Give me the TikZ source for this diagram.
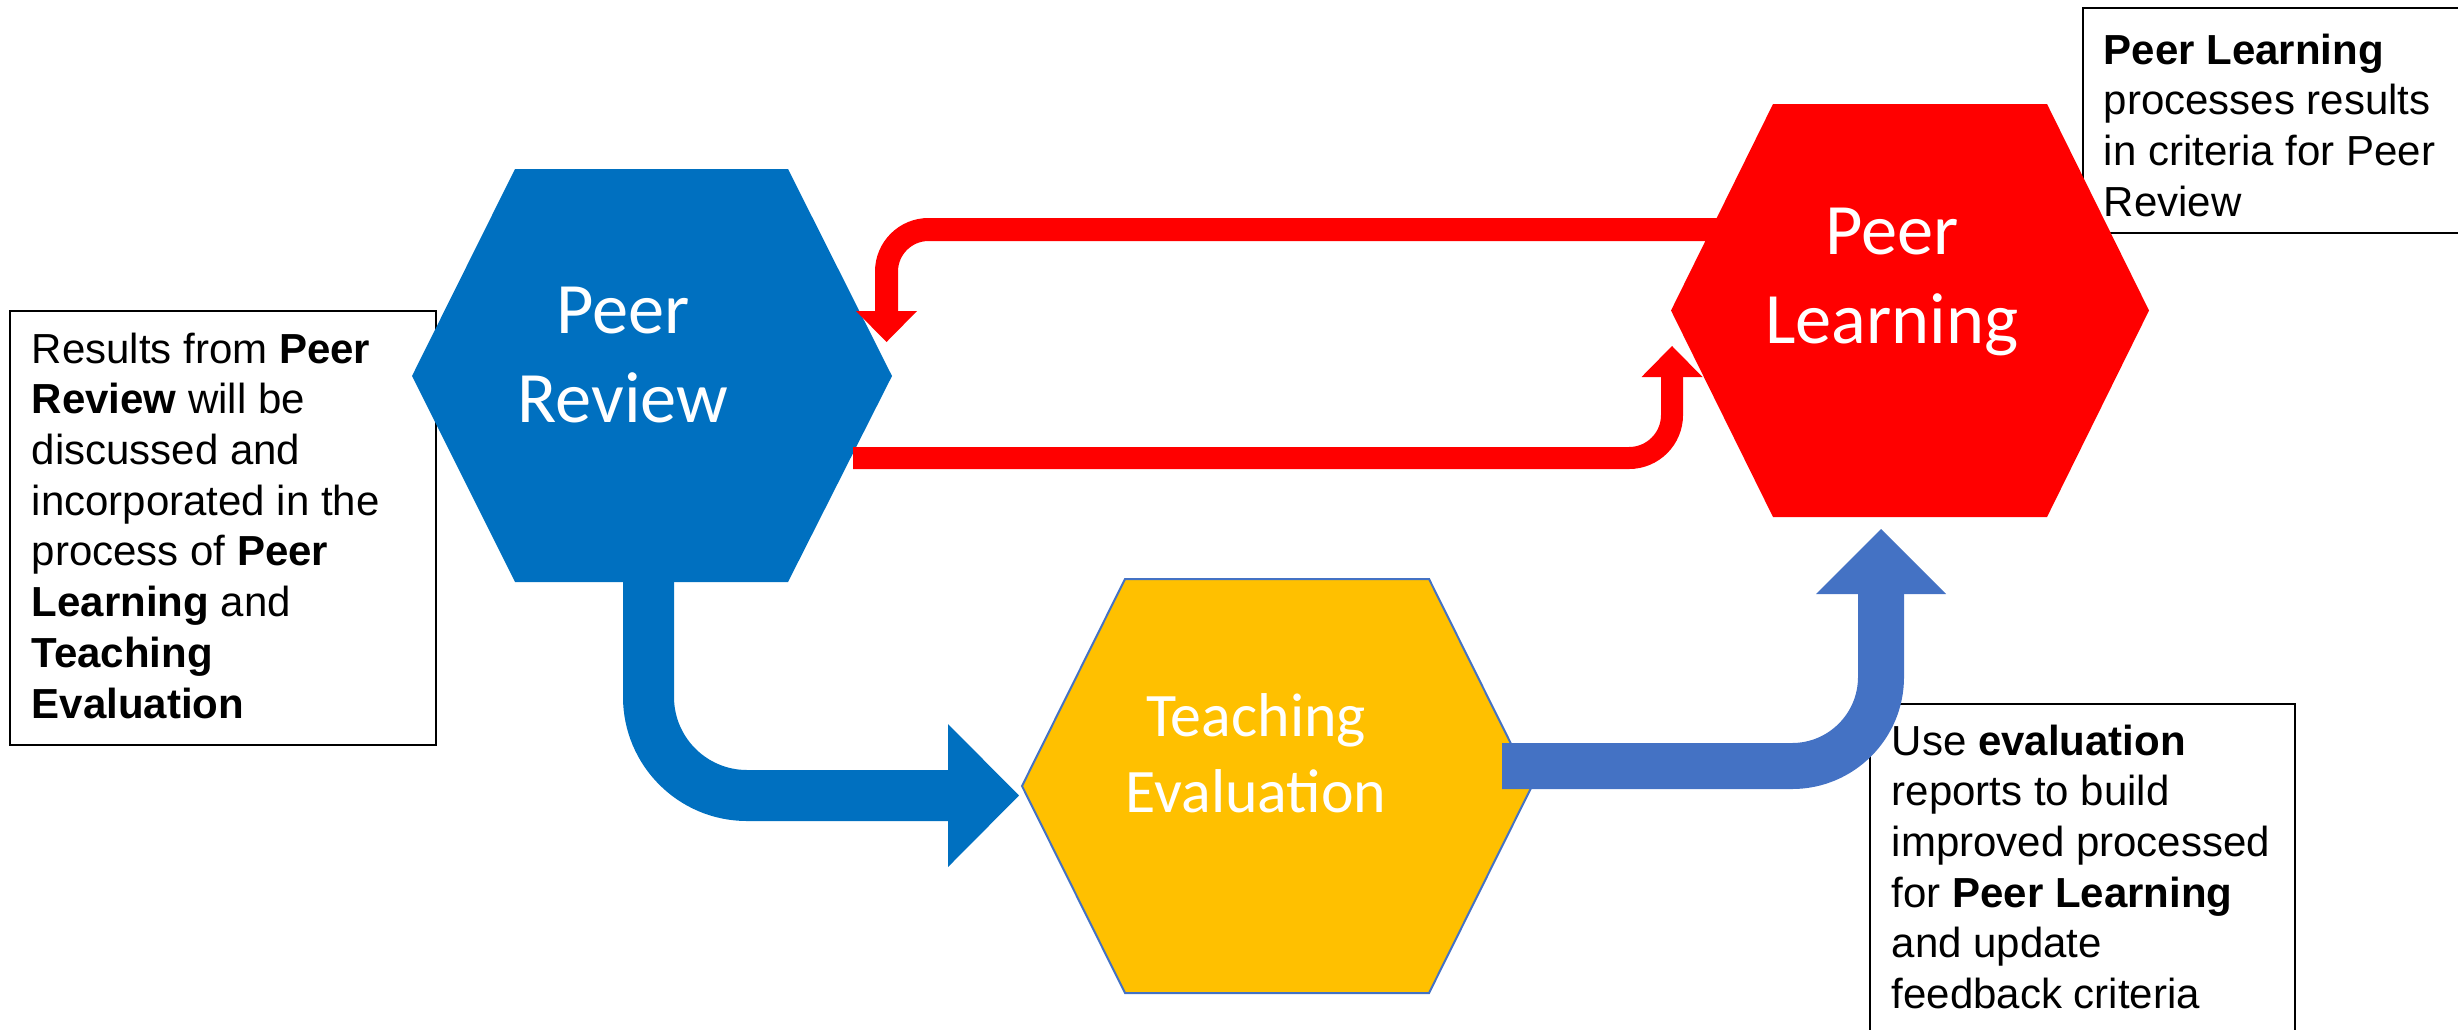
\documentclass[tikz,border=0pt]{standalone}
\usepackage{fontspec}
\setmainfont{Liberation Sans}
\newfontfamily\calibri{Carlito}
\definecolor{prblue}{HTML}{0070C0}
\definecolor{plred}{HTML}{FF0000}
\definecolor{teyellow}{HTML}{FFC000}
\definecolor{arrowblue}{HTML}{4472C4}
\begin{document}
\begin{tikzpicture}[x=0.1mm,y=-0.1mm,
  tbox/.style={draw=black, line width=0.15mm, fill=white, inner sep=0, anchor=north west},
  btext/.style={inner sep=0, anchor=base west, font=\fontsize{11.95pt}{14.43pt}\selectfont},
  hexlabel/.style={inner sep=0, anchor=base, text=white},
  bigfont/.style={font=\calibri\fontsize{20.6pt}{25.6pt}\selectfont},
  midfont/.style={font=\calibri\fontsize{17.6pt}{21.9pt}\selectfont},
  shaft/.style={line cap=butt, line join=miter},
]
\useasboundingbox (0,0) rectangle (2458,1029);

% text boxes (behind)
\node[tbox, minimum width=42.6mm, minimum height=43.4mm] (lbox) at (9,310) {};
\node[tbox, minimum width=38.8mm, minimum height=22.5mm] (trbox) at (2082,7) {};
\node[tbox, minimum width=42.5mm, minimum height=34mm] (brbox) at (1869,703) {};

% hexagons
\fill[prblue] (412,376) -- (515,169) -- (788,169) -- (892,376) -- (788,582) -- (515,582) -- cycle;
\fill[plred] (1671,310.5) -- (1773,104) -- (2047,104) -- (2149,310.5) -- (2047,517) -- (1773,517) -- cycle;
\filldraw[fill=teyellow, draw=arrowblue, line width=0.2mm] (1022,786) -- (1125,579) -- (1429,579) -- (1532,786) -- (1429,993) -- (1125,993) -- cycle;

\node[hexlabel, bigfont] (pr) at (623,333) {\begin{tabular}[t]{@{}c@{}}Peer\\Review\end{tabular}};
\node[hexlabel, bigfont] (pl) at (1892,254) {\begin{tabular}[t]{@{}c@{}}Peer\\Learning\end{tabular}};
\node[hexlabel, midfont] (te) at (1256,736) {\begin{tabular}[t]{@{}c@{}}Teaching\\Evaluation\end{tabular}};

% arrow end points
\coordinate (r1s) at (1730,229.5);
\coordinate (r1e) at (886.5,312);
\coordinate (r2s) at (853,458);
\coordinate (r2e) at (1672,376);
\coordinate (b1s) at (648.5,570);
\coordinate (b1e) at (949,795.5);
\coordinate (b2s) at (1502,766);
\coordinate (b2e) at (1881,593);

% red arrow: Peer Learning -> Peer Review
\draw[shaft, plred, line width=2.3mm, rounded corners=4.2mm] (r1s) -- (r1s -| r1e) -- (r1e);
\fill[plred] (856,311) -- (917,311) -- (886.5,342) -- cycle;

% red arrow: Peer Review -> Peer Learning
\draw[shaft, plred, line width=2.2mm, rounded corners=4.3mm] (r2s) -- (r2s -| r2e) -- (r2e);
\fill[plred] (1641.5,377) -- (1702.5,377) -- (1672,346) -- cycle;

% blue arrow: Peer Review -> Teaching Evaluation
\draw[shaft, prblue, line width=5.1mm, rounded corners=9.85mm] (b1s) -- (b1s |- b1e) -- (b1e);
\fill[prblue] (948,724) -- (948,867) -- (1019,795.5) -- cycle;

% blue arrow: Teaching Evaluation -> Peer Learning
\draw[shaft, arrowblue, line width=4.6mm, rounded corners=8.9mm] (b2s) -- (b2s -| b2e) -- (b2e);
\fill[arrowblue] (1816,594) -- (1946,594) -- (1881,529) -- cycle;

% box texts
\node[btext] (ltext) at (31,363) {\begin{tabular}[t]{@{}l@{}}Results from \textbf{Peer}\\\textbf{Review} will be\\discussed and\\incorporated in the\\process of \textbf{Peer}\\\textbf{Learning} and\\\textbf{Teaching}\\\textbf{Evaluation}\end{tabular}};
\node[btext] (trtext) at (2103,64) {\begin{tabular}[t]{@{}l@{}}\textbf{Peer Learning}\\processes results\\in criteria for Peer\\Review\end{tabular}};
\node[btext] (brtext) at (1891,755) {\begin{tabular}[t]{@{}l@{}}Use \textbf{evaluation}\\reports to build\\improved processed\\for \textbf{Peer Learning}\\and update\\feedback criteria\end{tabular}};
\end{tikzpicture}
\end{document}
